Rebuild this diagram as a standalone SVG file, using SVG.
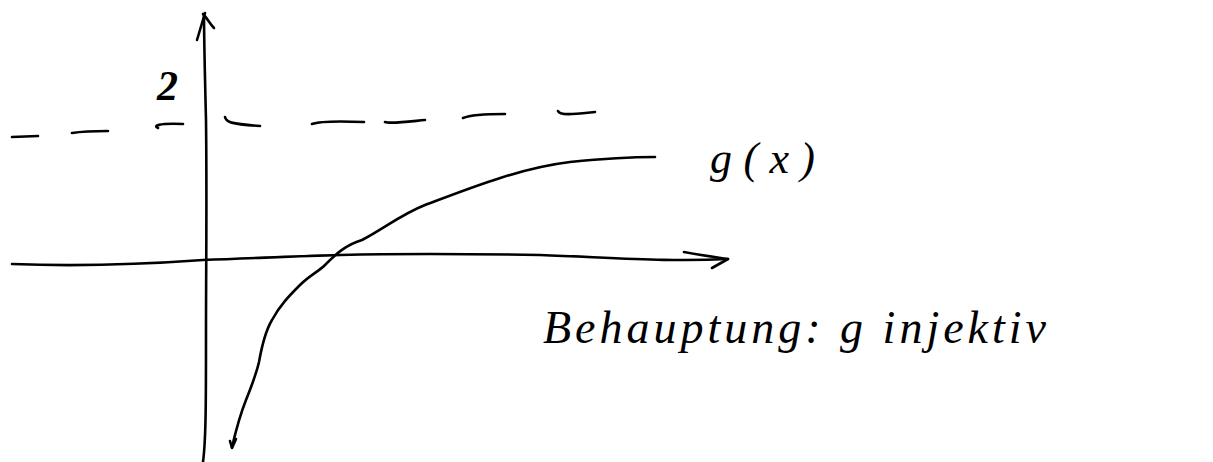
<svg xmlns="http://www.w3.org/2000/svg" width="1213" height="462" viewBox="0 0 1213 462">
<style>
.s{fill:none;stroke:#000;stroke-width:2.6;stroke-linecap:round;stroke-linejoin:round}
.t{font-family:"Liberation Serif",serif;font-style:italic;fill:#000}
</style>
<rect width="1213" height="462" fill="#fff"/>
<g id="connectors">
<path id="y-axis" class="s" d="M203,462 C206,440 206,400 206,330 C206,270 207,200 206,120 C205,80 204,40 204,14"/>
<path class="s" d="M197,40 C200,30 203,20 205,13 M203,14 C207,18 210,24 214,28"/>
<path id="x-axis" class="s" d="M12,264 C60,266 120,266 203,260 C260,258 300,256 340,255 C420,253 480,254 540,255 C620,258 670,262 728,259"/>
<path class="s" d="M684,252 C700,255 715,257 728,259 L712,268"/>
<path id="dashes" class="s" d="M12,137 L38,136 M72,133 C85,131 98,131 108,131 M158,128 C153,126 157,123 183,124 M225,117 C226,122 230,124 260,126 M312,124 C320,121 340,121 364,122 M385,122 C390,124 405,122 425,120 M463,118 C470,115 490,114 505,114 M558,111 C560,116 575,114 595,112"/>
</g>
<g id="curve">
<path class="s" d="M232,447 C236,430 240,415 246,400 C252,385 256,375 259,362 C262,345 266,330 272,320 C280,305 290,295 300,285 C310,275 318,272 325,265 C335,255 345,245 362,240 C385,228 400,215 425,205 C470,188 520,168 570,162 C610,158 640,157 655,157"/>
<path class="s" d="M230,441 L232,448 L236,439"/>
</g>
<g id="label-2">
<text class="t" x="157" y="100" font-size="42" font-weight="bold">2</text>
</g>
<g id="label-gx">
<text class="t" x="710" y="173" font-size="44" textLength="105" lengthAdjust="spacing">g(x)</text>
</g>
<g id="label-behauptung">
<text class="t" x="543" y="343" font-size="46" textLength="503" lengthAdjust="spacing">Behauptung: g injektiv</text>
</g>
</svg>
